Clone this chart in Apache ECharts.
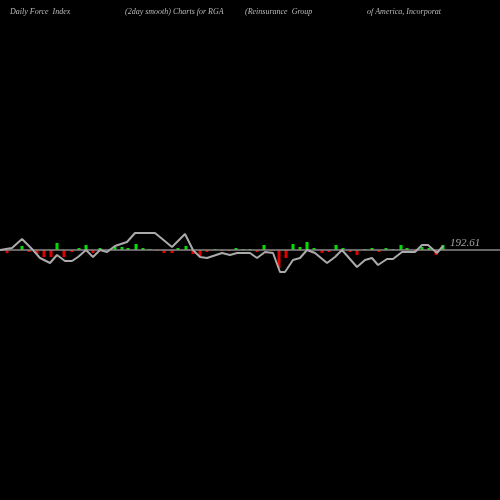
<!DOCTYPE html>
<html><head><meta charset="utf-8">
<script src="https://cdn.jsdelivr.net/npm/echarts@6/dist/echarts.min.js"></script>
<style>html,body{margin:0;background:#000}#c{width:500px;height:500px}</style>
</head><body><div id="c"></div>
<script>
const lineX = [0,12,22,33,40,50,57,65,72,78,86,93,100,107,115,127,135,155,172,185,193,200,207,222,230,237,250,257,265,273,280,285,293,300,307,315,327,335,342,357,365,372,378,387,393,402,415,422,428,437,443];
const lineV = [0,2,11,0,-8,-13,-5,-11,-11,-7,0,-7,0,-2,4,8,17,17,3,16,0,-7,-8,-3,-5,-3,-3,-8,-2,-3,-22,-22,-10,-8,0,-3,-13,-7,0,-17,-10,-8,-15,-9,-9,-2,-2,5,5,-3,4];
const barX = [7,22,29,37,44,51,57,64,72,79,86,93,100,115,122,128,136,143,150,157,164,172,178,186,193,200,207,215,222,229,236,243,250,257,264,272,279,286,293,300,307,314,322,329,336,343,350,357,365,372,379,386,393,401,407,415,422,429,436,443];
const barV = [-3,4,-2,-4,-7,-7,7,-7,-2,2,5,-3,2,3,3,2,6,2,1,-1,-3,-3,2,4,-4,-6,-2,1,-1,-1,2,1,1,-2,5,-1,-18,-8,6,3,8,2,-3,-2,5,2,-2,-5,1,2,-2,2,1,5,2,-1,3,2,-5,5];
const lastLabel = "192.61";
const titles = ["Daily Force  Index","(2day smooth) Charts for RGA","(Reinsurance  Group","of America, Incorporat"];
const titleX = [5,120,240,362];
const chart = echarts.init(document.getElementById('c'));
chart.setOption({
  backgroundColor:'#000', animation:false,
  title: titles.map((t,i)=>({text:t,left:titleX[i],top:3,textStyle:{color:'#bbb',fontSize:8,fontStyle:'italic',fontWeight:'normal',fontFamily:'Liberation Serif'}})),
  grid:{left:0,right:0,top:0,bottom:0},
  xAxis:{type:'value',min:0,max:500,show:false},
  yAxis:{type:'value',min:-250,max:250,show:false},
  series:[
    {type:'line',data:[[0,0],[500,0]],symbol:'none',lineStyle:{color:'#888',width:1.5},silent:true},
    {type:'scatter',data:[[450,7]],symbolSize:0,label:{show:true,formatter:lastLabel,position:'right',distance:0,color:'#ccc',fontSize:11,fontStyle:'italic',fontFamily:'Liberation Serif'}},
    {type:'bar',data:barX.map((x,i)=>({value:[x,barV[i]],itemStyle:{color:barV[i]>=0?'#00e000':'#e00000'}})),barWidth:3},
    {type:'line',data:lineX.map((x,i)=>[x,lineV[i]]),symbol:'none',lineStyle:{color:'#aaa',width:2}}
  ]
});
</script></body></html>
